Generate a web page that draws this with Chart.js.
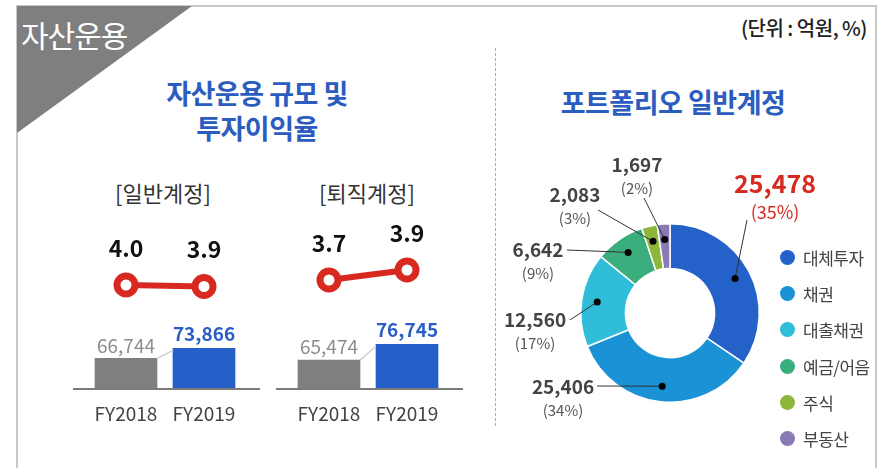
<!DOCTYPE html>
<html>
<head>
<meta charset="utf-8">
<script src="https://cdn.jsdelivr.net/npm/chart.js@4.4.1/dist/chart.umd.min.js"></script>
<style>
  html, body { margin: 0; padding: 0; background: #fff; }
  body { width: 883px; height: 468px; position: relative; overflow: hidden; font-family: "Noto Sans CJK KR", "Noto Sans", sans-serif; }
  .frame { position: absolute; left: 16px; top: 5px; width: 861px; height: 480px; border: 2px solid #c8c8c8; box-sizing: border-box; }
  .corner { position: absolute; left: 17px; top: 6px; width: 175px; height: 127px; background: #7f7f7f; clip-path: polygon(0 0, 100% 0, 0 100%); }
  .corner-text { position: absolute; left: 21px; top: 14px; color: #fff; font-size: 30px; line-height: 40px; letter-spacing: -1px; }
  .unit { position: absolute; right: 16px; top: 13px; font-size: 20px; color: #222; font-weight: 500; letter-spacing: -0.5px; }
  .title { position: absolute; color: #2b5cc0; font-weight: 700; font-size: 27px; text-align: center; line-height: 35px; letter-spacing: -0.5px; }
  .sub { position: absolute; font-size: 22px; color: #333; text-align: center; width: 160px; }
  .divider { position: absolute; left: 495px; top: 48px; height: 378px; border-left: 1px dashed #aaa; }
  canvas { position: absolute; }
  .legend { position: absolute; left: 780px; top: 239px; margin: 0; padding: 0; list-style: none; }
  .legend li { height: 36.3px; display: flex; align-items: center; font-size: 17px; color: #444; letter-spacing: -0.5px; }
  .legend li span { display: inline-block; width: 15px; height: 15px; border-radius: 50%; margin-right: 8px; }
</style>
</head>
<body>
<div class="frame"></div>
<div class="corner"></div>
<div class="corner-text">자산운용</div>
<div class="unit">(단위 : 억원, %)</div>
<div class="title" style="left:137px; top:75px; width:240px;">자산운용 규모 및<br>투자이익율</div>
<div class="title" style="left:533px; top:84px; width:280px;">포트폴리오 일반계정</div>
<div class="sub" style="left:83px; top:176px;">[일반계정]</div>
<div class="sub" style="left:287px; top:176px;">[퇴직계정]</div>
<div class="divider"></div>

<canvas id="genChart" width="210" height="210" style="left:60px; top:220px;"></canvas>
<canvas id="retChart" width="210" height="210" style="left:263px; top:220px;"></canvas>
<canvas id="pieChart" width="340" height="300" style="left:500px; top:140px;"></canvas>
<ul class="legend" id="legend"></ul>

<script>
// ---------------- data ----------------
const years = ['FY2018', 'FY2019'];
const generalAssets = [66744, 73866];
const generalYield = [4.0, 3.9];
const retireAssets = [65474, 76745];
const retireYield = [3.7, 3.9];

const portfolioLabels = ['대체투자', '채권', '대출채권', '예금/어음', '주식', '부동산'];
const portfolioValues = [25478, 25406, 12560, 6642, 2083, 1697];
const portfolioPct = [35, 34, 17, 9, 3, 2];

// ---------------- styles ----------------
const FONT = '"Noto Sans CJK KR", "Noto Sans", sans-serif';
const RED = '#d7291f';
const barColors = ['#808080', '#2560c8'];
const pieColors = ['#2462c9', '#1a92d5', '#2fbdd9', '#3bae7d', '#8db73b', '#8979b5'];
// label anchors for the callouts, relative to the doughnut centre: [textX, textY, lineEndX, lineEndY]
const calloutLayout = [
    [105, -130, 77, -93],
    [-107, 74, -73, 73],
    [-135, 7, -100, 7],
    [-132, -63, -103, -63],
    [-95, -118, -72, -103],
    [-33, -148, -26, -115]
];

const fmt = v => v.toLocaleString('en-US');

// draws baseline, connector and value labels on the small combo charts
const comboDecor = {
    id: 'comboDecor',
    afterDatasetsDraw(chart) {
        const ctx = chart.ctx;
        const a = chart.chartArea;
        const bars = chart.getDatasetMeta(1).data;
        const pts = chart.getDatasetMeta(0).data;
        const barData = chart.data.datasets[1].data;
        const lineData = chart.data.datasets[0].data;
        ctx.save();
        // baseline
        ctx.strokeStyle = '#7a7a7a';
        ctx.lineWidth = 2;
        ctx.beginPath();
        ctx.moveTo(a.left - 14, a.bottom);
        ctx.lineTo(a.right + 17, a.bottom);
        ctx.stroke();
        // thin connector between bar tops
        const b0 = bars[0], b1 = bars[1];
        ctx.strokeStyle = '#cfcfcf';
        ctx.lineWidth = 1.5;
        ctx.beginPath();
        ctx.moveTo(b0.x + b0.width / 2, b0.y);
        ctx.lineTo(b1.x - b1.width / 2, b1.y + 2);
        ctx.stroke();
        // bar values
        ctx.textAlign = 'center';
        ctx.textBaseline = 'middle';
        ctx.font = '19px ' + FONT;
        ctx.fillStyle = '#8c8c8c';
        ctx.fillText(fmt(barData[0]), b0.x, b0.y - 13);
        ctx.font = 'bold 19px ' + FONT;
        ctx.fillStyle = '#2a5ec4';
        ctx.fillText(fmt(barData[1]), b1.x, b1.y - 15);
        // yield values
        ctx.font = 'bold 23px ' + FONT;
        ctx.fillStyle = '#111';
        pts.forEach((p, i) => ctx.fillText(lineData[i].toFixed(1), p.x, p.y - 37));
        ctx.restore();
    }
};

function makeCombo(id, assets, yields, yMin, yMax) {
    return new Chart(document.getElementById(id), {
        data: {
            labels: years,
            datasets: [
                { type: 'line', data: yields, yAxisID: 'y1', borderColor: RED, borderWidth: 6,
                  pointRadius: 9, pointBorderWidth: 7, pointBackgroundColor: '#fff', pointBorderColor: RED, order: 0 },
                { type: 'bar', data: assets, yAxisID: 'y', backgroundColor: barColors, barThickness: 62, order: 1 }
            ]
        },
        options: {
            responsive: false,
            animation: false,
            layout: { autoPadding: false, padding: { left: 27, right: 27, top: 0, bottom: 1 } },
            plugins: { legend: { display: false }, tooltip: { enabled: false } },
            scales: {
                x: {
                    grid: { display: false, drawTicks: false },
                    border: { display: false },
                    ticks: { color: '#444', font: { family: FONT, size: 19 }, padding: 13 },
                    afterFit: s => { s.height = 40; }
                },
                y: { display: false, min: 45000, max: 165000 },
                y1: { display: false, min: yMin, max: yMax }
            }
        },
        plugins: [comboDecor]
    });
}

makeCombo('genChart', generalAssets, generalYield, -2.93, 8.33);
makeCombo('retChart', retireAssets, retireYield, 1.52, 4.9);

// doughnut callouts
const callouts = {
    id: 'callouts',
    afterDatasetsDraw(chart) {
        const ctx = chart.ctx;
        const arcs = chart.getDatasetMeta(0).data;
        ctx.save();
        arcs.forEach((arc, i) => {
            const mid = (arc.startAngle + arc.endAngle) / 2;
            const r = arc.innerRadius + (arc.outerRadius - arc.innerRadius) * 0.65;
            const dx = arc.x + Math.cos(mid) * r;
            const dy = arc.y + Math.sin(mid) * r;
            const L = calloutLayout[i];
            ctx.strokeStyle = '#333';
            ctx.lineWidth = 1;
            ctx.beginPath();
            ctx.moveTo(dx, dy);
            ctx.lineTo(arc.x + L[2], arc.y + L[3]);
            ctx.stroke();
            ctx.fillStyle = '#000';
            ctx.beginPath();
            ctx.arc(dx, dy, 3.5, 0, Math.PI * 2);
            ctx.fill();
            ctx.textAlign = 'center';
            ctx.textBaseline = 'middle';
            const big = i === 0;
            ctx.fillStyle = big ? RED : '#444';
            ctx.font = 'bold ' + (big ? 25 : 19) + 'px ' + FONT;
            ctx.fillText(fmt(portfolioValues[i]), arc.x + L[0], arc.y + L[1]);
            ctx.fillStyle = big ? RED : '#555';
            ctx.font = (big ? 18 : 15) + 'px ' + FONT;
            ctx.fillText('(' + portfolioPct[i] + '%)', arc.x + L[0], arc.y + L[1] + (big ? 29 : 23));
        });
        ctx.restore();
    }
};

new Chart(document.getElementById('pieChart'), {
    type: 'doughnut',
    data: {
        labels: portfolioLabels,
        datasets: [{ data: portfolioValues, backgroundColor: pieColors, borderColor: '#fff', borderWidth: 1.5 }]
    },
    options: {
        responsive: false,
        animation: false,
        cutout: '50%',
        layout: { padding: { left: 80, right: 80, top: 83, bottom: 37 } },
        plugins: { legend: { display: false }, tooltip: { enabled: false } }
    },
    plugins: [callouts]
});

// legend
const legendEl = document.getElementById('legend');
portfolioLabels.forEach((lab, i) => {
    const li = document.createElement('li');
    li.innerHTML = `<span style="background:${pieColors[i]}"></span>${lab}`;
    legendEl.appendChild(li);
});
</script>
</body>
</html>
